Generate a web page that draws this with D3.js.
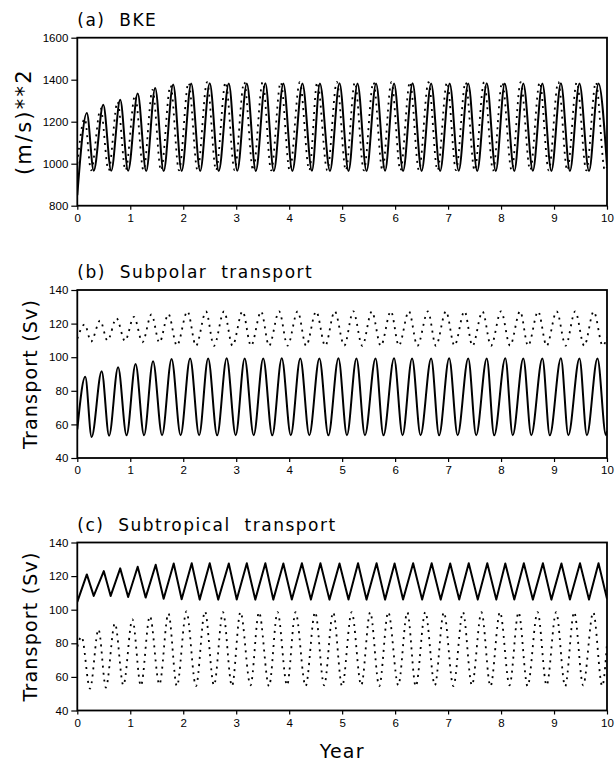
<!DOCTYPE html>
<html lang="en">
<head>
<meta charset="UTF-8">
<title>BKE and gyre transports</title>
<script src="https://d3js.org/d3.v7.min.js"></script>
<style>
    body { margin: 0; background: #fff; }
    .tick text { font-family: "Liberation Sans", Arial, sans-serif; font-size: 11.5px; fill: #000; }
    .tick line { stroke: #000; stroke-width: 1.2; }
    .title { font-family: "DejaVu Sans", sans-serif; font-size: 17px; letter-spacing: 1.5px; white-space: pre; }
    .ylabel, .xlabel { font-family: "DejaVu Sans", sans-serif; font-size: 19px; letter-spacing: 1.2px; }
    .solid { fill: none; stroke: #000; stroke-width: 2; stroke-linejoin: round; }
    .dotted { fill: none; stroke: #000; stroke-width: 1.8; stroke-dasharray: 2 5; }
    .frame { fill: none; stroke: #000; stroke-width: 1.8; }
</style>
</head>
<body>
<svg id="chart" width="615" height="761"></svg>
<script>
// x axis (years), shared by all panels
const yearTicks = [0, 1, 2, 3, 4, 5, 6, 7, 8, 9, 10];
const bkeTicks = [800, 1000, 1200, 1400, 1600];
const transportTicks = [40, 60, 80, 100, 120, 140];

// series: [year, value] at turning points
const bkeSolid = [[0,850],
    [0.18,1241],[0.31,967],[0.49,1281],[0.64,966],[0.81,1305],[0.96,966],
    [1.14,1334],[1.30,965],[1.47,1361],[1.63,965],[1.81,1377],[1.97,965],
    [2.15,1382],[2.32,965],[2.50,1383],[2.67,965],[2.86,1382],[3.02,966],
    [3.20,1382],[3.37,965],[3.55,1383],[3.71,965],[3.89,1382],[4.06,965],
    [4.25,1382],[4.43,966],[4.58,1382],[4.77,965],[4.95,1383],[5.12,965],
    [5.29,1382],[5.46,965],[5.64,1382],[5.81,966],[5.98,1382],[6.15,965],
    [6.33,1383],[6.50,965],[6.68,1382],[6.85,965],[7.03,1382],[7.20,966],
    [7.38,1382],[7.55,965],[7.73,1383],[7.90,965],[8.07,1382],[8.25,965],
    [8.42,1382],[8.60,966],[8.78,1382],[8.95,965],[9.13,1383],[9.30,965],
    [9.48,1382],[9.66,965],[9.84,1382],[10,990]];

const bkeDotted = [[0,1000],
    [0.14,1215],[0.26,968],[0.44,1262],[0.59,968],[0.76,1295],[0.91,968],
    [1.09,1325],[1.25,968],[1.42,1352],[1.58,968],[1.76,1372],[1.92,968],
    [2.10,1386],[2.27,968],[2.45,1388],[2.62,968],[2.80,1388],[2.97,969],
    [3.15,1388],[3.32,968],[3.50,1389],[3.66,968],[3.84,1388],[4.01,968],
    [4.20,1388],[4.38,969],[4.53,1388],[4.72,968],[4.90,1389],[5.07,968],
    [5.24,1388],[5.41,968],[5.59,1388],[5.76,969],[5.93,1388],[6.10,968],
    [6.28,1389],[6.45,968],[6.63,1388],[6.80,968],[6.98,1388],[7.15,969],
    [7.33,1388],[7.50,968],[7.68,1389],[7.85,968],[8.02,1388],[8.20,968],
    [8.37,1388],[8.55,969],[8.73,1388],[8.90,968],[9.08,1389],[9.25,968],
    [9.43,1388],[9.61,968],[9.79,1388],[9.96,968],[10,985]];

const subpolarSolid = [[0,57],
    [0.15,88.3],[0.27,52.5],[0.46,91.7],[0.60,53.3],[0.77,94.0],[0.93,53.5],
    [1.10,95.9],[1.26,53.5],[1.43,97.6],[1.60,53.6],[1.78,99.0],[1.95,53.6],
    [2.13,99.3],[2.30,53.6],[2.47,99.3],[2.64,53.5],[2.82,99.4],[2.99,53.6],
    [3.16,99.3],[3.33,53.6],[3.51,99.3],[3.68,53.5],[3.86,99.4],[4.03,53.6],
    [4.21,99.3],[4.38,53.6],[4.57,99.3],[4.74,53.5],[4.93,99.4],[5.09,53.6],
    [5.27,99.3],[5.43,53.6],[5.63,99.3],[5.78,53.5],[5.98,99.4],[6.14,53.6],
    [6.32,99.3],[6.48,53.6],[6.68,99.3],[6.83,53.5],[7.02,99.4],[7.18,53.6],
    [7.38,99.3],[7.53,53.6],[7.73,99.3],[7.87,53.5],[8.08,99.4],[8.22,53.6],
    [8.42,99.3],[8.57,53.6],[8.78,99.3],[8.92,53.5],[9.13,99.4],[9.27,53.6],
    [9.48,99.3],[9.62,53.6],[9.82,99.3],[9.98,53.6],[10,56]];

const subpolarDotted = [[0,111],
    [0.14,119.5],[0.26,109.3],[0.43,121.8],[0.57,109.9],[0.74,123.2],[0.90,109.7],
    [1.07,124.0],[1.23,108.9],[1.40,125.5],[1.55,108.7],[1.72,125.7],[1.88,106.9],
    [2.08,127.3],[2.24,106.8],[2.43,127.2],[2.58,106.8],[2.77,127.3],[2.93,106.9],
    [3.12,127.3],[3.28,106.8],[3.47,127.2],[3.62,106.8],[3.81,127.3],[3.97,106.9],
    [4.16,127.3],[4.32,106.8],[4.51,127.2],[4.68,106.8],[4.86,127.3],[5.04,106.9],
    [5.21,127.3],[5.38,106.8],[5.56,127.2],[5.73,106.8],[5.92,127.3],[6.07,106.9],
    [6.26,127.3],[6.42,106.8],[6.62,127.2],[6.77,106.8],[6.96,127.3],[7.12,106.9],
    [7.31,127.3],[7.46,106.8],[7.65,127.2],[7.81,106.8],[8.00,127.3],[8.17,106.9],
    [8.36,127.3],[8.51,106.8],[8.70,127.2],[8.86,106.8],[9.05,127.3],[9.22,106.9],
    [9.40,127.3],[9.57,106.8],[9.75,127.2],[9.92,106.8],[10,112]];

const subtropSolid = [[0,104.7],
    [0.18,121.0],[0.31,108.2],[0.50,123.0],[0.63,108.2],[0.81,124.6],[0.96,107.6],
    [1.14,125.6],[1.29,107.2],[1.48,126.8],[1.63,106.5],[1.82,127.5],[1.97,106.2],
    [2.16,127.6],[2.31,106.0],[2.50,127.6],[2.66,106.0],[2.86,127.5],[3.01,106.1],
    [3.20,127.6],[3.36,106.0],[3.55,127.6],[3.70,106.0],[3.89,127.5],[4.05,106.1],
    [4.24,127.6],[4.41,106.0],[4.59,127.6],[4.76,106.0],[4.95,127.5],[5.12,106.1],
    [5.30,127.6],[5.46,106.0],[5.65,127.6],[5.81,106.0],[5.99,127.5],[6.15,106.1],
    [6.34,127.6],[6.51,106.0],[6.69,127.6],[6.86,106.0],[7.04,127.5],[7.21,106.1],
    [7.39,127.6],[7.56,106.0],[7.74,127.6],[7.91,106.0],[8.08,127.5],[8.25,106.1],
    [8.43,127.6],[8.60,106.0],[8.79,127.6],[8.95,106.0],[9.14,127.5],[9.30,106.1],
    [9.49,127.6],[9.66,106.0],[9.84,127.6],[10,106.5]];

const subtropDotted = [[0,78],
    [0.08,84.0],[0.24,53.0],[0.40,88.3],[0.54,53.7],[0.71,91.9],[0.87,55.0],
    [1.04,94.3],[1.20,54.7],[1.37,96.2],[1.55,55.5],[1.72,97.8],[1.88,54.5],
    [2.06,99.0],[2.24,54.5],[2.41,99.0],[2.58,55.0],[2.75,98.5],[2.92,54.5],
    [3.08,98.6],[3.27,55.0],[3.43,98.5],[3.62,54.4],[3.78,98.6],[3.96,55.0],
    [4.12,98.5],[4.31,54.5],[4.49,98.6],[4.66,55.0],[4.83,98.5],[5.00,54.4],
    [5.18,98.6],[5.36,55.0],[5.53,98.5],[5.70,54.5],[5.87,98.6],[6.06,55.0],
    [6.23,98.5],[6.39,54.4],[6.57,98.6],[6.75,55.0],[6.92,98.5],[7.10,54.5],
    [7.28,98.6],[7.45,55.0],[7.63,98.5],[7.80,54.4],[7.98,98.6],[8.16,55.0],
    [8.33,98.5],[8.50,54.5],[8.69,98.6],[8.86,55.0],[9.04,98.5],[9.21,54.4],
    [9.38,98.6],[9.55,55.0],[9.74,98.5],[9.91,54.5],[10,80]];

const svg = d3.select('#chart');

const left = 77.3, right = 607, plotH = 168;

const panels = [
    { top: 37.7, title: '(a)  BKE', ylabel: '(m/s)**2', labelX: 31, labelSize: 21, labelSpacing: 2.2,
      domain: [800, 1600], ticks: bkeTicks, solid: bkeSolid, dotted: bkeDotted, solidCurve: d3.curveMonotoneX },
    { top: 290, title: '(b)  Subpolar  transport', ylabel: 'Transport  (Sv)', labelX: 37, labelSize: 19, labelSpacing: 1.2,
      domain: [40, 140], ticks: transportTicks, solid: subpolarSolid, dotted: subpolarDotted, solidCurve: d3.curveMonotoneX },
    { top: 542.5, title: '(c)  Subtropical  transport', ylabel: 'Transport  (Sv)', labelX: 37, labelSize: 19, labelSpacing: 1.2,
      domain: [40, 140], ticks: transportTicks, solid: subtropSolid, dotted: subtropDotted, solidCurve: d3.curveLinear }
];

const x = d3.scaleLinear().domain([0, 10]).range([left, right]);

panels.forEach((p, i) => {
    const y = d3.scaleLinear().domain(p.domain).range([p.top + plotH, p.top]);
    const g = svg.append('g');

    // clip the curves to the plot box
    svg.append('defs').append('clipPath')
        .attr('id', 'clip' + i)
        .append('rect')
        .attr('x', left)
        .attr('y', p.top)
        .attr('width', right - left)
        .attr('height', plotH);

    g.append('g')
        .attr('transform', `translate(${left},0)`)
        .call(d3.axisLeft(y).tickValues(p.ticks).tickFormat(d3.format('d')).tickSize(6).tickPadding(3))
        .call(a => a.select('.domain').remove());

    g.append('g')
        .attr('transform', `translate(0,${p.top + plotH})`)
        .call(d3.axisBottom(x).tickValues(yearTicks).tickFormat(d3.format('d')).tickSize(4).tickPadding(4))
        .call(a => a.select('.domain').remove());

    const dottedLine = d3.line()
        .x(d => x(d[0]))
        .y(d => y(d[1]))
        .curve(d3.curveMonotoneX);

    const solidLine = d3.line()
        .x(d => x(d[0]))
        .y(d => y(d[1]))
        .curve(p.solidCurve);

    g.append('path')
        .datum(p.dotted)
        .attr('class', 'dotted')
        .attr('clip-path', `url(#clip${i})`)
        .attr('d', dottedLine);

    g.append('path')
        .datum(p.solid)
        .attr('class', 'solid')
        .attr('clip-path', `url(#clip${i})`)
        .attr('d', solidLine);

    g.append('rect')
        .attr('class', 'frame')
        .attr('x', left)
        .attr('y', p.top)
        .attr('width', right - left)
        .attr('height', plotH);

    g.append('text')
        .attr('class', 'title')
        .attr('x', left)
        .attr('y', p.top - 12)
        .text(p.title);

    g.append('text')
        .attr('class', 'ylabel')
        .attr('text-anchor', 'middle')
        .style('font-size', p.labelSize + 'px')
        .style('letter-spacing', p.labelSpacing + 'px')
        .attr('transform', `translate(${p.labelX},${p.top + plotH / 2}) rotate(-90)`)
        .text(p.ylabel);
});

svg.append('text')
    .attr('class', 'xlabel')
    .attr('text-anchor', 'middle')
    .attr('x', (left + right) / 2)
    .attr('y', 758)
    .text('Year');
</script>
</body>
</html>
